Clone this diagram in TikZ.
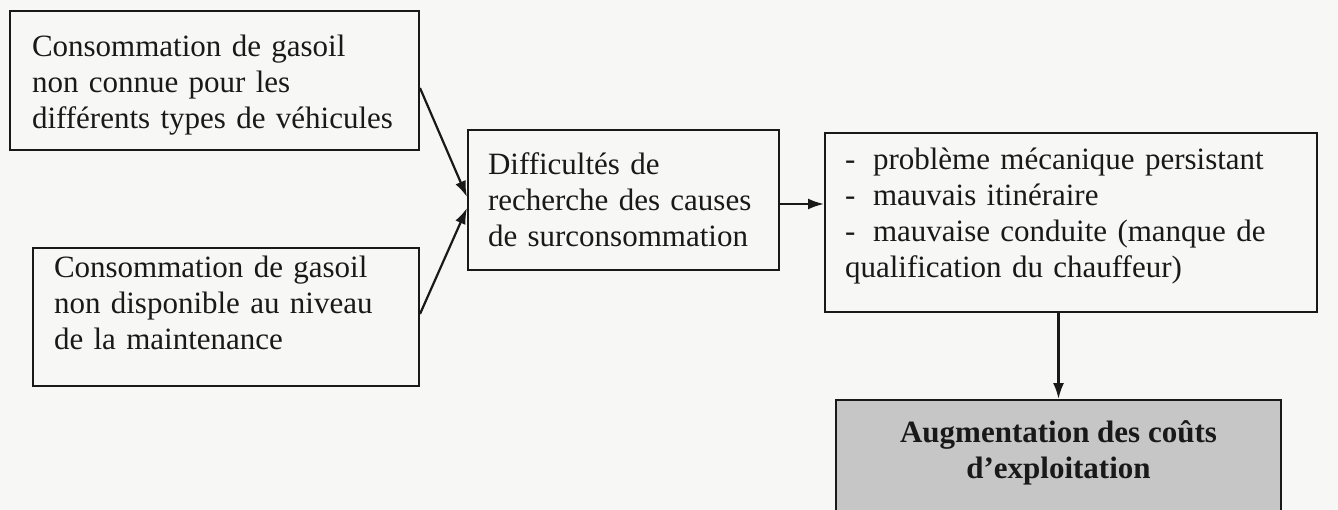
\documentclass[tikz,border=0pt]{standalone}
\usepackage{fontspec}
\setmainfont{Liberation Serif}
\usetikzlibrary{arrows.meta,calc}
\definecolor{paper}{RGB}{247,247,245}
\definecolor{shade}{RGB}{198,198,198}
\definecolor{ink}{RGB}{25,25,25}
\begin{document}
\begin{tikzpicture}[x=1pt,y=-1pt,
  every node/.style={font=\fontsize{31}{36}\selectfont, text=ink},
  box/.style={draw=ink, line width=2pt, anchor=north west, inner xsep=20pt, inner ysep=0pt, align=left},
  arr/.style={draw=ink, line width=2.2pt, -{Latex[length=16pt,width=11pt]}}]
\useasboundingbox (0,0) rectangle (1338,510);
\clip (0,0) rectangle (1338,510);
\fill[paper] (0,0) rectangle (1338,510);

% causes on the left
\node[box, inner xsep=22pt, minimum width=409pt, minimum height=139pt, text width=365pt] (b1) at (9,10)
  {\rule{0pt}{30pt}Consommation de gasoil\\non connue pour les\\différents types de véhicules};
\node[box, inner xsep=21pt, minimum width=386pt, minimum height=138pt, text width=344pt] (b2) at (32,247)
  {Consommation de gasoil\\non disponible au niveau\\de la maintenance\rule[-28pt]{0pt}{0pt}};

% central difficulty
\node[box, minimum width=311pt, minimum height=140pt, text width=271pt] (b3) at (467,129)
  {Difficultés de\\recherche des causes\\de surconsommation};

% list of consequences
\node[box, minimum width=492pt, minimum height=179pt, text width=452pt] (b4) at (824,132)
  {\makebox[28pt][l]{-}problème mécanique persistant\\
   \makebox[28pt][l]{-}mauvais itinéraire\\
   \makebox[28pt][l]{-}mauvaise conduite (manque de\\
   qualification du chauffeur)\rule[-20pt]{0pt}{0pt}};

% final effect
\node[draw=ink, line width=2pt, fill=shade, inner sep=0pt, anchor=north west] (b5) at (835,399)
  {\begin{minipage}[t][130pt][t]{445pt}\centering\bfseries
   \rule{0pt}{42pt}Augmentation des coûts\\d’exploitation\end{minipage}};

% connectors
\draw[arr] ([yshift=-7.5pt]b1.east) -- ([yshift=3pt]b3.west);
\draw[arr] ([yshift=3pt]b2.east) -- ([yshift=-8pt]b3.west);
\draw[arr] ([yshift=-4pt]b3.east) -- ([yshift=-4pt]b3.east -| b4.west);
\draw[arr] (b5.north |- b4.south) -- (b5.north);
\end{tikzpicture}
\end{document}
